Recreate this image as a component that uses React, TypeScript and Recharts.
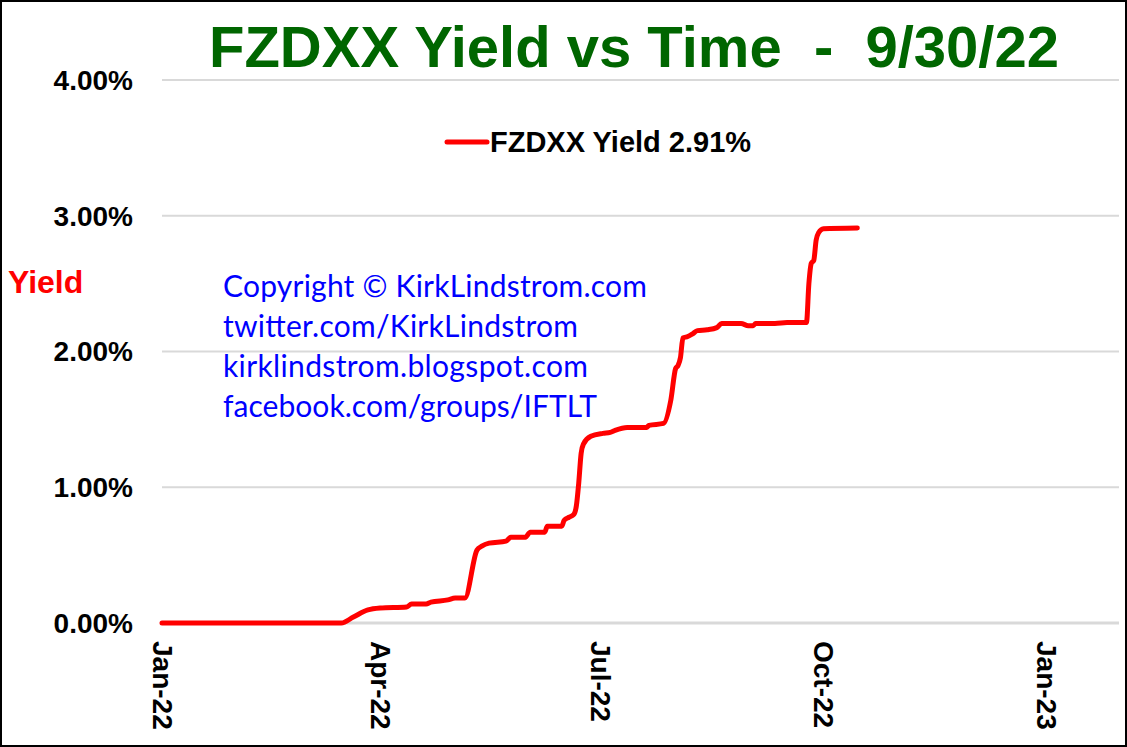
import React from "react";
import { CartesianGrid, Legend, Line, LineChart, ReferenceLine, XAxis, YAxis } from "recharts";

const dates = [
  "2022-01-01", "2022-03-16", "2022-03-21", "2022-03-27", "2022-04-01", "2022-04-12",
  "2022-04-14", "2022-04-20", "2022-04-22", "2022-04-29", "2022-05-02", "2022-05-06",
  "2022-05-11", "2022-05-13", "2022-05-16", "2022-05-23", "2022-05-25", "2022-05-31",
  "2022-06-02", "2022-06-08", "2022-06-09", "2022-06-15", "2022-06-16", "2022-06-18",
  "2022-06-20", "2022-06-21", "2022-06-22", "2022-06-23", "2022-06-24", "2022-06-27",
  "2022-07-02", "2022-07-05", "2022-07-07", "2022-07-12", "2022-07-20", "2022-07-21",
  "2022-07-27", "2022-07-30", "2022-08-01", "2022-08-02", "2022-08-03", "2022-08-04",
  "2022-08-06", "2022-08-08", "2022-08-10", "2022-08-14", "2022-08-18", "2022-08-20",
  "2022-08-28", "2022-08-31", "2022-09-02", "2022-09-03", "2022-09-11", "2022-09-16",
  "2022-09-24", "2022-09-25", "2022-09-26", "2022-09-27", "2022-09-28", "2022-09-29",
  "2022-10-01", "2022-10-15",
];

const yields = [
  0, 0, 0.044, 0.096, 0.11, 0.118,
  0.14, 0.14, 0.154, 0.17, 0.184, 0.184,
  0.537, 0.566, 0.588, 0.603, 0.632, 0.632,
  0.669, 0.669, 0.713, 0.713, 0.757, 0.779,
  0.8, 0.86, 1.03, 1.25, 1.32, 1.375,
  1.397, 1.404, 1.419, 1.441, 1.441, 1.456,
  1.47, 1.64, 1.875, 1.897, 1.956, 2.1,
  2.11, 2.13, 2.154, 2.16, 2.176, 2.206,
  2.206, 2.19, 2.19, 2.206, 2.206, 2.213,
  2.213, 2.5, 2.65, 2.67, 2.82, 2.875,
  2.904, 2.91,
];

const tickDays = [0, 90, 181, 273, 365];
const tickLabels = ["Jan-22", "Apr-22", "Jul-22", "Oct-22", "Jan-23"];
const yTicks = [0, 1, 2, 3, 4];
const seriesName = "FZDXX Yield 2.91%";
const copyrightLines = [
  "Copyright © KirkLindstrom.com",
  "twitter.com/KirkLindstrom",
  "kirklindstrom.blogspot.com",
  "facebook.com/groups/IFTLT",
];
// measured widths of the watermark lines in the picture
const copyrightWidths = [424, 355, 365, 374];

const START = Date.UTC(2022, 0, 1);
const toDay = (s: string) => {
  const [y, m, d] = s.split("-").map(Number);
  return Math.round((Date.UTC(y, m - 1, d) - START) / 86400000);
};

const data = dates.map((d, i) => ({ day: toDay(d), yield: yields[i] }));

const FONT = "'Liberation Sans', Arial, sans-serif";

function DateTick(props: any) {
  const { x, y, payload } = props;
  const idx = tickDays.indexOf(payload.value);
  return (
    <text
      x={x}
      y={y}
      transform={`rotate(90, ${x}, ${y})`}
      textAnchor="start"
      dominantBaseline="central"
      fontFamily={FONT}
      fontWeight="bold"
      fontSize={28}
      fill="#000"
    >
      {idx >= 0 ? tickLabels[idx] : ""}
    </text>
  );
}

function LegendBox() {
  return (
    <svg width={340} height={40} style={{ display: "block" }}>
      <line x1={4} y1={18} x2={44} y2={18} stroke="#ff0000" strokeWidth={5} strokeLinecap="round" />
      <text x={47} y={28} fontFamily={FONT} fontWeight="bold" fontSize={29} fill="#000">
        {seriesName}
      </text>
    </svg>
  );
}

export default function App() {
  return (
    <div style={{ position: "relative", width: 1127, height: 747, background: "#fff" }}>
      <style>{"body{margin:0}"}</style>
      <LineChart
        width={1127}
        height={747}
        data={data}
        margin={{ top: 80, right: 8, bottom: 0, left: 0 }}
      >
        <CartesianGrid horizontal vertical={false} stroke="#d9d9d9" strokeWidth={2} />
        <XAxis
          dataKey="day"
          type="number"
          domain={[0, 395]}
          ticks={tickDays}
          tick={<DateTick />}
          tickLine={false}
          tickSize={0}
          tickMargin={18}
          height={124}
          axisLine={false}
          interval={0}
        />
        <YAxis
          domain={[0, 4]}
          ticks={yTicks}
          tickFormatter={(v: number) => `${v.toFixed(2)}%`}
          width={162}
          axisLine={false}
          tickLine={false}
          tickSize={0}
          tickMargin={29}
          tick={{ fill: "#000", fontSize: 28, fontWeight: "bold", fontFamily: FONT }}
        />
        <ReferenceLine y={0} stroke="#d9d9d9" strokeWidth={3} />
        <Legend
          layout="vertical"
          align="center"
          verticalAlign="middle"
          content={<LegendBox />}
          wrapperStyle={{ position: "absolute", top: 124, left: 443, width: 340 }}
        />
        <Line
          type="monotone"
          dataKey="yield"
          name={seriesName}
          stroke="#ff0000"
          strokeWidth={5}
          strokeLinejoin="round"
          strokeLinecap="round"
          dot={false}
          activeDot={false}
          isAnimationActive={false}
        />
      </LineChart>
      <svg
        width={1127}
        height={747}
        style={{ position: "absolute", left: 0, top: 0, pointerEvents: "none" }}
      >
        <text
          x={634}
          y={67}
          textAnchor="middle"
          fontFamily={FONT}
          fontWeight="bold"
          fontSize={58}
          fill="#006600"
          style={{ whiteSpace: "pre" }}
        >
          {"FZDXX Yield vs Time  -  9/30/22"}
        </text>
        <text x={8} y={293} fontFamily={FONT} fontWeight="bold" fontSize={32} fill="#ff0000">
          Yield
        </text>
        {copyrightLines.map((line, i) => (
          <text
            key={line}
            x={223}
            y={297 + i * 40}
            fontFamily="Lato, 'Open Sans', sans-serif"
            fontSize={30}
            textLength={copyrightWidths[i]}
            lengthAdjust="spacing"
            fill="#0000ff"
          >
            {line}
          </text>
        ))}
        <rect x={1} y={1} width={1125} height={745} fill="none" stroke="#000" strokeWidth={2} />
      </svg>
    </div>
  );
}
